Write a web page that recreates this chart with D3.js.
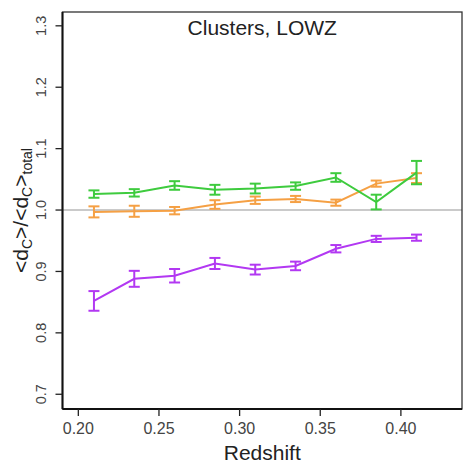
<!DOCTYPE html>
<html><head><meta charset="utf-8">
<script src="https://cdn.jsdelivr.net/npm/d3@7"></script>
<style>body{margin:0;background:#fff;}svg{display:block;}text{font-family:"Liberation Sans",Arial,sans-serif;}</style>
</head><body>
<svg id="c" width="467" height="465"></svg>
<script>
const redshift = [0.21,0.235,0.26,0.285,0.31,0.335,0.36,0.385,0.41];
const greenVal = [1.026,1.028,1.040,1.033,1.035,1.039,1.053,1.013,1.061];
const greenErr = [0.006,0.006,0.007,0.008,0.008,0.006,0.007,0.012,0.019];
const orangeVal = [0.997,0.998,0.999,1.009,1.016,1.018,1.012,1.043,1.052];
const orangeErr = [0.009,0.009,0.006,0.007,0.006,0.005,0.005,0.005,0.008];
const purpleVal = [0.852,0.888,0.893,0.913,0.903,0.909,0.937,0.953,0.955];
const purpleErr = [0.016,0.013,0.011,0.009,0.008,0.007,0.006,0.005,0.005];
const xTicks = [0.20,0.25,0.30,0.35,0.40];
const yTicks = [0.7,0.8,0.9,1.0,1.1,1.2,1.3];
const title = "Clusters, LOWZ";

const svg = d3.select("#c");
const L=62.5, R=462, T=12, B=409;
const x = d3.scaleLinear().domain([0.1905,0.4382]).range([L,R]);
const y = d3.scaleLinear().domain([0.676,1.3225]).range([B,T]);

svg.append("line").attr("x1",L).attr("x2",R).attr("y1",y(1.0)).attr("y2",y(1.0))
  .attr("stroke","#b8b8b8").attr("stroke-width",1.5);

const series = [
  {v:orangeVal,e:orangeErr,c:"#f5a044"},
  {v:greenVal,e:greenErr,c:"#3ecb3e"},
  {v:purpleVal,e:purpleErr,c:"#b238f2"}
];
const line = d3.line().x((d,i)=>x(redshift[i])).y(d=>y(d));
series.forEach(s=>{
  const g = svg.append("g");
  g.append("path").datum(s.v).attr("d",line).attr("fill","none").attr("stroke",s.c).attr("stroke-width",2);
  s.v.forEach((v,i)=>{
    const cx = x(redshift[i]), y1=y(v-s.e[i]), y2=y(v+s.e[i]);
    g.append("line").attr("x1",cx).attr("x2",cx).attr("y1",y1).attr("y2",y2).attr("stroke",s.c).attr("stroke-width",2);
    [y1,y2].forEach(yy=>g.append("line").attr("x1",cx-5.5).attr("x2",cx+5.5).attr("y1",yy).attr("y2",yy).attr("stroke",s.c).attr("stroke-width",2));
  });
});

svg.append("rect").attr("x",L).attr("y",T).attr("width",R-L).attr("height",B-T)
  .attr("fill","none").attr("stroke","#333").attr("stroke-width",1.3);
svg.append("line").attr("x1",L).attr("x2",L).attr("y1",T).attr("y2",B).attr("stroke","#111").attr("stroke-width",2);
svg.append("line").attr("x1",L).attr("x2",R).attr("y1",B).attr("y2",B).attr("stroke","#111").attr("stroke-width",2);

const xa = svg.append("g").attr("transform",`translate(0,${B})`)
  .call(d3.axisBottom(x).tickValues(xTicks).tickFormat(d3.format(".2f")).tickSize(7).tickSizeOuter(0));
xa.select(".domain").remove();
xa.selectAll("line").attr("stroke","#222").attr("stroke-width",1.3);
xa.selectAll("text").attr("font-size",16).attr("fill","#444").attr("y",25).attr("dy",null);

const ya = svg.append("g").attr("transform",`translate(${L},0)`)
  .call(d3.axisLeft(y).tickValues(yTicks).tickFormat(d3.format(".1f")).tickSize(7).tickSizeOuter(0));
ya.select(".domain").remove();
ya.selectAll("line").attr("stroke","#222").attr("stroke-width",1.3);
ya.selectAll(".tick").attr("transform",null);
ya.selectAll(".tick line").attr("y1",d=>y(d)).attr("y2",d=>y(d));
ya.selectAll("text").attr("font-size",14.5).attr("fill","#444")
  .attr("x",null).attr("y",null).attr("dy","0.35em")
  .attr("text-anchor","middle")
  .attr("transform",d=>`translate(-21.5,${y(d)}) rotate(-90)`);

svg.append("text").attr("x",(L+R)/2).attr("y",35).attr("text-anchor","middle")
  .attr("font-size",21).attr("fill","#222").text(title);
svg.append("text").attr("x",(L+R)/2).attr("y",460).attr("text-anchor","middle")
  .attr("font-size",21).attr("fill","#222").text("Redshift");
const yl = svg.append("text").attr("transform",`translate(28,${(T+B)/2}) rotate(-90)`)
  .attr("text-anchor","middle").attr("font-size",21).attr("fill","#222");
yl.append("tspan").text("<d");
yl.append("tspan").attr("font-size",14).attr("dy",4).text("C");
yl.append("tspan").attr("dy",-4).text(">/<d");
yl.append("tspan").attr("font-size",14).attr("dy",4).text("C");
yl.append("tspan").attr("dy",-4).text(">");
yl.append("tspan").attr("font-size",14).attr("dy",4).text("total");
</script>
</body></html>
